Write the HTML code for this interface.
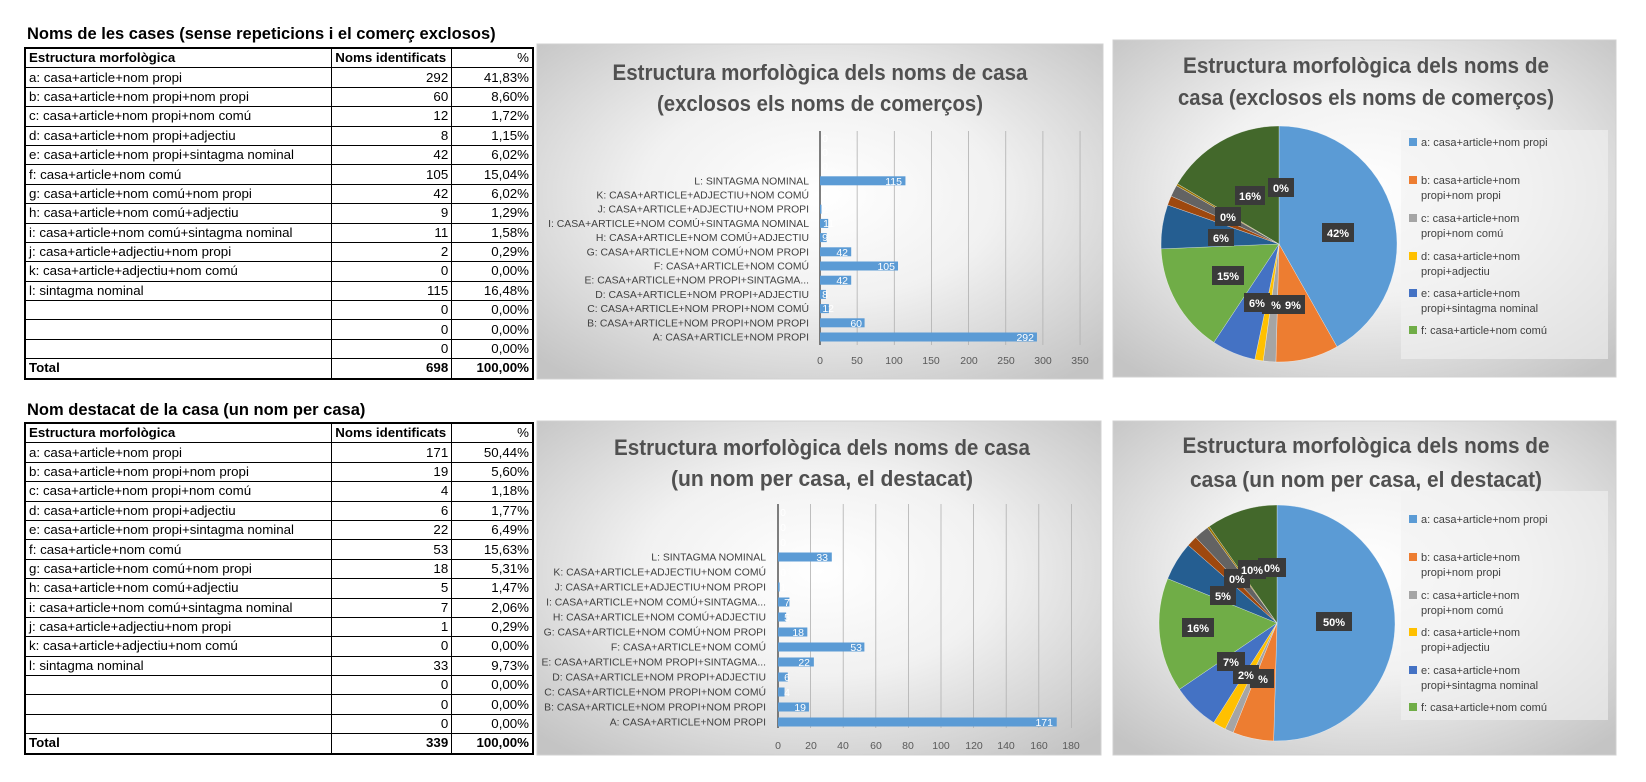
<!DOCTYPE html>
<html><head><meta charset="utf-8">
<style>
body{margin:0;width:1646px;height:782px;background:#fff;position:relative;overflow:hidden;font-family:"Liberation Sans",sans-serif;}
.ttl{position:absolute;left:27px;font-weight:bold;font-size:16.5px;color:#000;}
table{position:absolute;left:24px;border-collapse:collapse;font-size:13.3px;width:510px;}
td{border:1px solid #000;padding:0 3px;height:18.4px;line-height:16px;white-space:nowrap;}
td.n{text-align:right;}
tr.h td{font-weight:bold;}
svg{position:absolute;left:0;top:0;}
</style></head><body>
<div class="ttl" style="top:25px">Noms de les cases (sense repeticions i el comerç exclosos)</div>
<table style="top:47px;border:2px solid #000">
<colgroup><col style="width:308px"><col style="width:120px"><col style="width:82px"></colgroup>
<tr class="h"><td>Estructura morfològica</td><td>Noms identificats</td><td class="n" style="font-weight:normal">%</td></tr>
<tr><td>a: casa+article+nom propi</td><td class="n">292</td><td class="n">41,83%</td></tr>
<tr><td>b: casa+article+nom propi+nom propi</td><td class="n">60</td><td class="n">8,60%</td></tr>
<tr><td>c: casa+article+nom propi+nom comú</td><td class="n">12</td><td class="n">1,72%</td></tr>
<tr><td>d: casa+article+nom propi+adjectiu</td><td class="n">8</td><td class="n">1,15%</td></tr>
<tr><td>e: casa+article+nom propi+sintagma nominal</td><td class="n">42</td><td class="n">6,02%</td></tr>
<tr><td>f: casa+article+nom comú</td><td class="n">105</td><td class="n">15,04%</td></tr>
<tr><td>g: casa+article+nom comú+nom propi</td><td class="n">42</td><td class="n">6,02%</td></tr>
<tr><td>h: casa+article+nom comú+adjectiu</td><td class="n">9</td><td class="n">1,29%</td></tr>
<tr><td>i: casa+article+nom comú+sintagma nominal</td><td class="n">11</td><td class="n">1,58%</td></tr>
<tr><td>j: casa+article+adjectiu+nom propi</td><td class="n">2</td><td class="n">0,29%</td></tr>
<tr><td>k: casa+article+adjectiu+nom comú</td><td class="n">0</td><td class="n">0,00%</td></tr>
<tr><td>l: sintagma nominal</td><td class="n">115</td><td class="n">16,48%</td></tr>
<tr><td></td><td class="n">0</td><td class="n">0,00%</td></tr>
<tr><td></td><td class="n">0</td><td class="n">0,00%</td></tr>
<tr><td></td><td class="n">0</td><td class="n">0,00%</td></tr>
<tr class="h"><td>Total</td><td class="n">698</td><td class="n">100,00%</td></tr>
</table>

<div class="ttl" style="top:401px">Nom destacat de la casa (un nom per casa)</div>
<table style="top:422px;border:2px solid #000">
<colgroup><col style="width:308px"><col style="width:120px"><col style="width:82px"></colgroup>
<tr class="h"><td>Estructura morfològica</td><td>Noms identificats</td><td class="n" style="font-weight:normal">%</td></tr>
<tr><td>a: casa+article+nom propi</td><td class="n">171</td><td class="n">50,44%</td></tr>
<tr><td>b: casa+article+nom propi+nom propi</td><td class="n">19</td><td class="n">5,60%</td></tr>
<tr><td>c: casa+article+nom propi+nom comú</td><td class="n">4</td><td class="n">1,18%</td></tr>
<tr><td>d: casa+article+nom propi+adjectiu</td><td class="n">6</td><td class="n">1,77%</td></tr>
<tr><td>e: casa+article+nom propi+sintagma nominal</td><td class="n">22</td><td class="n">6,49%</td></tr>
<tr><td>f: casa+article+nom comú</td><td class="n">53</td><td class="n">15,63%</td></tr>
<tr><td>g: casa+article+nom comú+nom propi</td><td class="n">18</td><td class="n">5,31%</td></tr>
<tr><td>h: casa+article+nom comú+adjectiu</td><td class="n">5</td><td class="n">1,47%</td></tr>
<tr><td>i: casa+article+nom comú+sintagma nominal</td><td class="n">7</td><td class="n">2,06%</td></tr>
<tr><td>j: casa+article+adjectiu+nom propi</td><td class="n">1</td><td class="n">0,29%</td></tr>
<tr><td>k: casa+article+adjectiu+nom comú</td><td class="n">0</td><td class="n">0,00%</td></tr>
<tr><td>l: sintagma nominal</td><td class="n">33</td><td class="n">9,73%</td></tr>
<tr><td></td><td class="n">0</td><td class="n">0,00%</td></tr>
<tr><td></td><td class="n">0</td><td class="n">0,00%</td></tr>
<tr><td></td><td class="n">0</td><td class="n">0,00%</td></tr>
<tr class="h"><td>Total</td><td class="n">339</td><td class="n">100,00%</td></tr>
</table>

<svg width="1646" height="782" style="pointer-events:none">
<defs>
<radialGradient id="bg" cx="50%" cy="45%" r="70%">
<stop offset="0" stop-color="#ffffff"/><stop offset="0.45" stop-color="#f1f1f1"/><stop offset="1" stop-color="#c4c4c4"/>
</radialGradient>
</defs>
<rect x="537" y="44" width="566" height="335" fill="url(#bg)" stroke="#d0d0d0"/>
<rect x="1113" y="40" width="503" height="337" fill="url(#bg)" stroke="#d0d0d0"/>
<rect x="537" y="421" width="564" height="334" fill="url(#bg)" stroke="#d0d0d0"/>
<rect x="1113" y="421" width="503" height="334" fill="url(#bg)" stroke="#d0d0d0"/>

<g font-family="Liberation Sans, sans-serif" font-weight="bold" fill="#505050" font-size="22" text-anchor="middle">
<text x="820" y="80" textLength="415" lengthAdjust="spacingAndGlyphs">Estructura morfològica dels noms de casa</text>
<text x="820" y="111" textLength="326" lengthAdjust="spacingAndGlyphs">(exclosos els noms de comerços)</text>
<text x="822" y="455" textLength="416" lengthAdjust="spacingAndGlyphs">Estructura morfològica dels noms de casa</text>
<text x="822" y="486" textLength="302" lengthAdjust="spacingAndGlyphs">(un nom per casa, el destacat)</text>
<text x="1366" y="73" textLength="366" lengthAdjust="spacingAndGlyphs">Estructura morfològica dels noms de</text>
<text x="1366" y="105" textLength="376" lengthAdjust="spacingAndGlyphs">casa (exclosos els noms de comerços)</text>
<text x="1366" y="453" textLength="367" lengthAdjust="spacingAndGlyphs">Estructura morfològica dels noms de</text>
<text x="1366" y="487" textLength="352" lengthAdjust="spacingAndGlyphs">casa (un nom per casa, el destacat)</text>
</g>

<g id="bars"></g>

<g font-family="Liberation Sans, sans-serif" font-size="10.4" fill="#404040" text-anchor="end">
<text x="809" y="340.5">A: CASA+ARTICLE+NOM PROPI</text>
<text x="809" y="326.3">B: CASA+ARTICLE+NOM PROPI+NOM PROPI</text>
<text x="809" y="312.1">C: CASA+ARTICLE+NOM PROPI+NOM COMÚ</text>
<text x="809" y="297.9">D: CASA+ARTICLE+NOM PROPI+ADJECTIU</text>
<text x="809" y="283.7">E: CASA+ARTICLE+NOM PROPI+SINTAGMA...</text>
<text x="809" y="269.5">F: CASA+ARTICLE+NOM COMÚ</text>
<text x="809" y="255.3">G: CASA+ARTICLE+NOM COMÚ+NOM PROPI</text>
<text x="809" y="241.1">H: CASA+ARTICLE+NOM COMÚ+ADJECTIU</text>
<text x="809" y="226.9">I: CASA+ARTICLE+NOM COMÚ+SINTAGMA NOMINAL</text>
<text x="809" y="212.7">J: CASA+ARTICLE+ADJECTIU+NOM PROPI</text>
<text x="809" y="198.5">K: CASA+ARTICLE+ADJECTIU+NOM COMÚ</text>
<text x="809" y="184.3">L: SINTAGMA NOMINAL</text>
</g>
<g font-family="Liberation Sans, sans-serif" font-size="10.5" fill="#595959" text-anchor="middle">
<text x="820" y="364">0</text><text x="857" y="364">50</text><text x="894" y="364">100</text><text x="931" y="364">150</text><text x="969" y="364">200</text><text x="1006" y="364">250</text><text x="1043" y="364">300</text><text x="1080" y="364">350</text>
<text x="778" y="749">0</text><text x="811" y="749">20</text><text x="843" y="749">40</text><text x="876" y="749">60</text><text x="908" y="749">80</text><text x="941" y="749">100</text><text x="974" y="749">120</text><text x="1006" y="749">140</text><text x="1039" y="749">160</text><text x="1071" y="749">180</text>
</g>
<g font-family="Liberation Sans, sans-serif" font-size="10.5" fill="#fff" text-anchor="end">
<text x="1034" y="341">292</text><text x="862" y="327">60</text><text x="834" y="312">12</text><text x="828" y="298">8</text>
<text x="848" y="284">42</text><text x="895" y="270">105</text><text x="848" y="256">42</text><text x="828" y="241">9</text>
<text x="834" y="227">11</text><text x="828" y="213">2</text><text x="828" y="199">0</text><text x="902" y="185">115</text>
<text x="828" y="170">0</text><text x="828" y="156">0</text><text x="828" y="142">0</text>
</g>

<g font-family="Liberation Sans, sans-serif" font-size="10.4" fill="#404040" text-anchor="end">
<text x="766" y="725.5">A: CASA+ARTICLE+NOM PROPI</text>
<text x="766" y="710.5">B: CASA+ARTICLE+NOM PROPI+NOM PROPI</text>
<text x="766" y="695.5">C: CASA+ARTICLE+NOM PROPI+NOM COMÚ</text>
<text x="766" y="680.5">D: CASA+ARTICLE+NOM PROPI+ADJECTIU</text>
<text x="766" y="665.5">E: CASA+ARTICLE+NOM PROPI+SINTAGMA...</text>
<text x="766" y="650.5">F: CASA+ARTICLE+NOM COMÚ</text>
<text x="766" y="635.5">G: CASA+ARTICLE+NOM COMÚ+NOM PROPI</text>
<text x="766" y="620.5">H: CASA+ARTICLE+NOM COMÚ+ADJECTIU</text>
<text x="766" y="605.5">I: CASA+ARTICLE+NOM COMÚ+SINTAGMA...</text>
<text x="766" y="590.5">J: CASA+ARTICLE+ADJECTIU+NOM PROPI</text>
<text x="766" y="575.5">K: CASA+ARTICLE+ADJECTIU+NOM COMÚ</text>
<text x="766" y="560.5">L: SINTAGMA NOMINAL</text>
</g>
<g font-family="Liberation Sans, sans-serif" font-size="10.5" fill="#fff" text-anchor="end">
<text x="1053" y="726">171</text><text x="806" y="711">19</text><text x="790" y="696">4</text><text x="790" y="681">6</text>
<text x="810" y="666">22</text><text x="862" y="651">53</text><text x="804" y="636">18</text><text x="790" y="621">5</text>
<text x="790" y="606">7</text><text x="786" y="591">1</text><text x="786" y="576">0</text><text x="828" y="561">33</text>
<text x="786" y="546">0</text><text x="786" y="531">0</text><text x="786" y="516">0</text>
</g>

<g id="pies"></g>

<rect x="1401" y="130" width="207" height="229" fill="#f2f2f2" opacity="0.6"/>
<rect x="1401" y="491" width="207" height="229" fill="#f2f2f2" opacity="0.6"/>
<g font-family="Liberation Sans, sans-serif" font-size="11" fill="#404040">
<rect x="1409" y="138" width="8" height="8" fill="#5B9BD5"/><text x="1421" y="146">a: casa+article+nom propi</text>
<rect x="1409" y="176" width="8" height="8" fill="#ED7D31"/><text x="1421" y="184">b: casa+article+nom</text><text x="1421" y="199">propi+nom propi</text>
<rect x="1409" y="214" width="8" height="8" fill="#A5A5A5"/><text x="1421" y="222">c: casa+article+nom</text><text x="1421" y="237">propi+nom comú</text>
<rect x="1409" y="252" width="8" height="8" fill="#FFC000"/><text x="1421" y="260">d: casa+article+nom</text><text x="1421" y="275">propi+adjectiu</text>
<rect x="1409" y="289" width="8" height="8" fill="#4472C4"/><text x="1421" y="297">e: casa+article+nom</text><text x="1421" y="312">propi+sintagma nominal</text>
<rect x="1409" y="326" width="8" height="8" fill="#70AD47"/><text x="1421" y="334">f: casa+article+nom comú</text>

<rect x="1409" y="515" width="8" height="8" fill="#5B9BD5"/><text x="1421" y="523">a: casa+article+nom propi</text>
<rect x="1409" y="553" width="8" height="8" fill="#ED7D31"/><text x="1421" y="561">b: casa+article+nom</text><text x="1421" y="576">propi+nom propi</text>
<rect x="1409" y="591" width="8" height="8" fill="#A5A5A5"/><text x="1421" y="599">c: casa+article+nom</text><text x="1421" y="614">propi+nom comú</text>
<rect x="1409" y="628" width="8" height="8" fill="#FFC000"/><text x="1421" y="636">d: casa+article+nom</text><text x="1421" y="651">propi+adjectiu</text>
<rect x="1409" y="666" width="8" height="8" fill="#4472C4"/><text x="1421" y="674">e: casa+article+nom</text><text x="1421" y="689">propi+sintagma nominal</text>
<rect x="1409" y="703" width="8" height="8" fill="#70AD47"/><text x="1421" y="711">f: casa+article+nom comú</text>
</g>

<g font-family="Liberation Sans, sans-serif" font-size="11" font-weight="bold" fill="#fff" text-anchor="middle">
<g fill="#3a3a3a">
<rect x="1322" y="223" width="32" height="19"/><rect x="1235" y="186" width="30" height="19"/><rect x="1268" y="178" width="26" height="19"/>
<rect x="1215" y="207" width="26" height="19"/><rect x="1208" y="229" width="26" height="17"/><rect x="1212" y="266" width="32" height="19"/>
<rect x="1244" y="293" width="26" height="19"/><rect x="1262" y="295" width="24" height="19"/><rect x="1279" y="295" width="26" height="19"/>
<rect x="1316" y="612" width="36" height="19"/><rect x="1182" y="618" width="32" height="19"/><rect x="1217" y="652" width="28" height="19"/>
<rect x="1233" y="665" width="26" height="19"/><rect x="1250" y="669" width="24" height="19"/><rect x="1210" y="586" width="26" height="19"/>
<rect x="1224" y="569" width="26" height="19"/><rect x="1238" y="560" width="28" height="19"/><rect x="1258" y="558" width="28" height="19"/>
</g>
<text x="1338" y="237">42%</text><text x="1250" y="200">16%</text><text x="1281" y="192">0%</text>
<text x="1228" y="221">0%</text><text x="1221" y="242">6%</text><text x="1228" y="280">15%</text>
<text x="1257" y="307">6%</text><text x="1276" y="309">%</text><text x="1293" y="309">9%</text>
<text x="1334" y="626">50%</text><text x="1198" y="632">16%</text><text x="1231" y="666">7%</text>
<text x="1246" y="679">2%</text><text x="1263" y="683">%</text><text x="1223" y="600">5%</text>
<text x="1237" y="583">0%</text><text x="1252" y="574">10%</text><text x="1272" y="572">0%</text>
</g>
</svg>
<script>
(function(){
var NS="http://www.w3.org/2000/svg";
function el(p,n,a){var e=document.createElementNS(NS,n);for(var k in a)e.setAttribute(k,a[k]);p.appendChild(e);return e;}
var bars=document.getElementById('bars');
function barChart(x0,scale,ticks,yTop,yBot,yA,step,vals){
  for(var i=0;i<ticks.length;i++){var x=x0+ticks[i]*scale;el(bars,'line',{x1:x,x2:x,y1:yTop,y2:yBot,stroke:i==0?'#555':'#b0b0b0','stroke-width':i==0?1.5:0.8});}
  for(var j=0;j<vals.length;j++){var w=vals[j]*scale;if(w>0)el(bars,'rect',{x:x0,y:yA-step*j-4.5,width:w,height:9,fill:'#5B9BD5'});}
}
barChart(820,0.743,[0,50,100,150,200,250,300,350],131,345,337,14.2,[292,60,12,8,42,105,42,9,11,2,0,115]);
barChart(778,1.63,[0,20,40,60,80,100,120,140,160,180],504,728,722,15,[171,19,4,6,22,53,18,5,7,1,0,33]);
var pies=document.getElementById('pies');
var cols=['#5B9BD5','#ED7D31','#A5A5A5','#FFC000','#4472C4','#70AD47','#255E91','#9E480E','#636363','#997300','#264478','#43682B'];
function pie(cx,cy,r,v){var a=-Math.PI/2,t=0;v.forEach(function(x){t+=x;});
  v.forEach(function(x,i){if(x<=0)return;var b=a+x/t*2*Math.PI;
    var d='M'+cx+' '+cy+' L'+(cx+r*Math.cos(a))+' '+(cy+r*Math.sin(a))+' A'+r+' '+r+' 0 '+((b-a)>Math.PI?1:0)+' 1 '+(cx+r*Math.cos(b))+' '+(cy+r*Math.sin(b))+' Z';
    el(pies,'path',{d:d,fill:cols[i],stroke:'#fff','stroke-width':0.3});a=b;});}
pie(1279,244,118,[41.83,8.6,1.72,1.15,6.02,15.04,6.02,1.29,1.58,0.29,0,16.48]);
pie(1277,623,118,[50.44,5.6,1.18,1.77,6.49,15.63,5.31,1.47,2.06,0.29,0,9.73]);
})();
</script>
</body></html>
